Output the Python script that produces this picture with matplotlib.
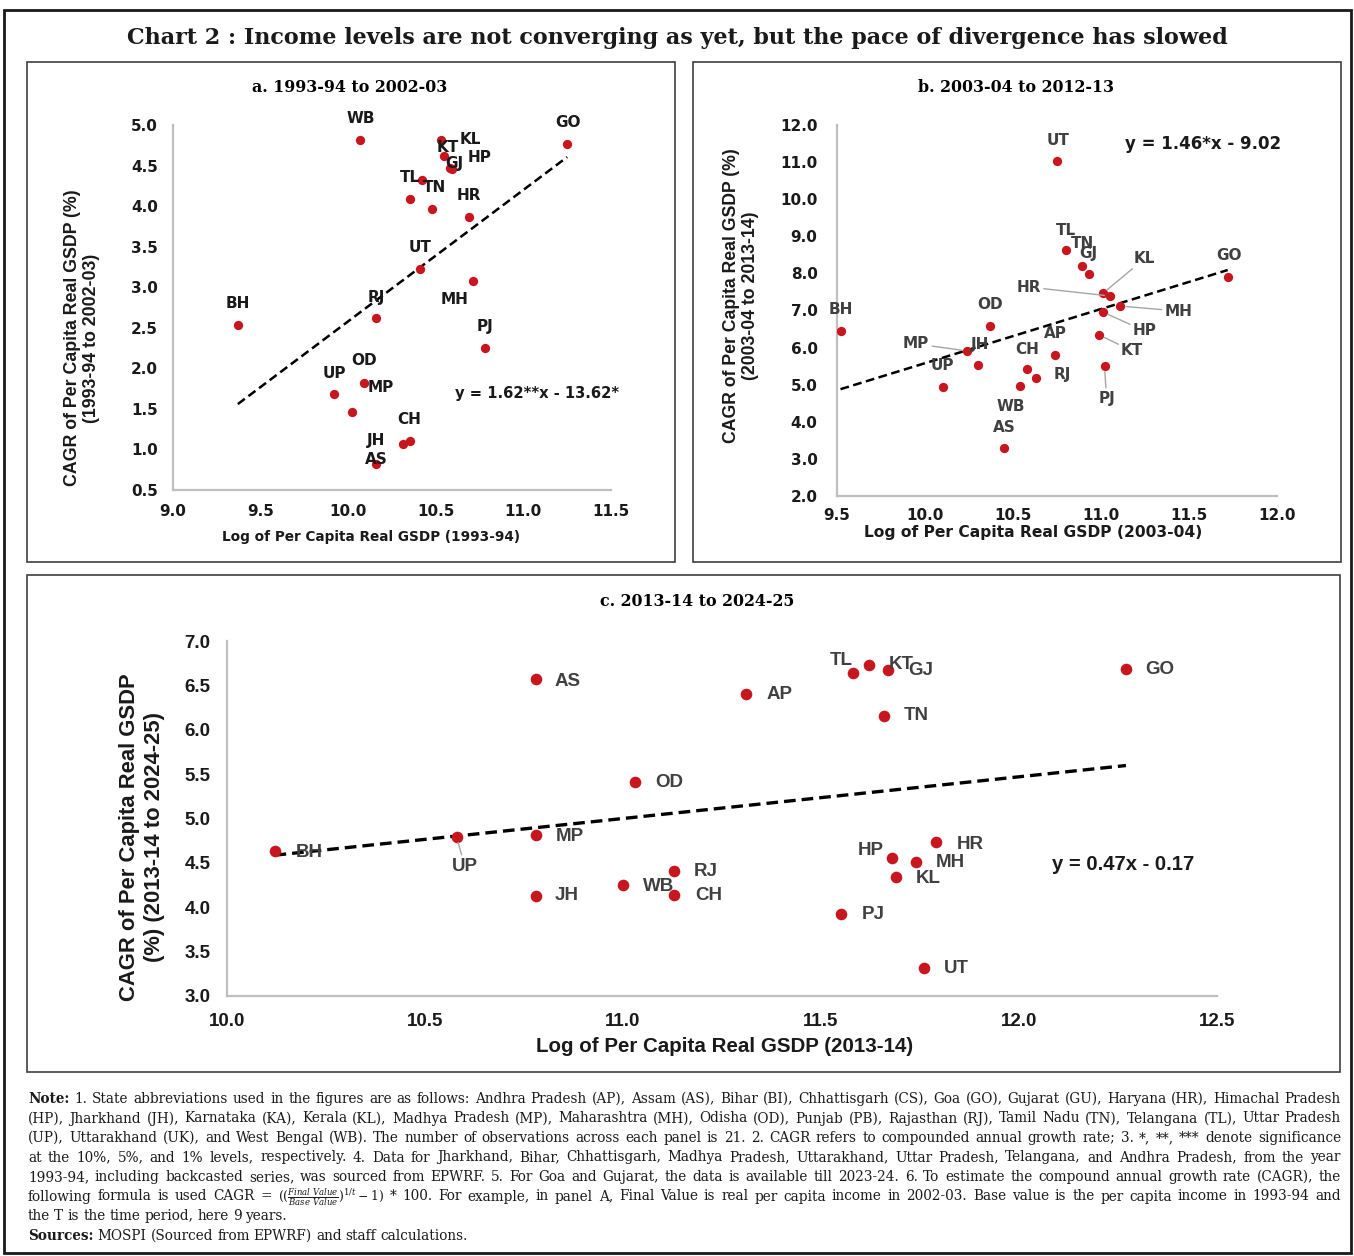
import numpy as np
import matplotlib
matplotlib.use('Agg')
import matplotlib.pyplot as plt
from matplotlib.patches import Rectangle

W, H = 1354, 1256

# ---- panel a: 1993-94 to 2002-03 ----
states_a = ['WB', 'KL', 'KT', 'GJ', 'HP', 'GO', 'TL', 'AP', 'TN', 'HR', 'UT',
            'MH', 'BH', 'RJ', 'PJ', 'OD', 'UP', 'MP', 'CH', 'JH', 'AS']
x_a = [10.07, 10.53, 10.545, 10.58, 10.59, 11.25, 10.42, 10.35, 10.48, 10.69, 10.41,
       10.71, 9.37, 10.16, 10.78, 10.09, 9.92, 10.02, 10.35, 10.31, 10.16]
y_a = [4.82, 4.82, 4.62, 4.47, 4.46, 4.76, 4.32, 4.09, 3.96, 3.87, 3.22,
       3.08, 2.53, 2.62, 2.25, 1.82, 1.68, 1.46, 1.10, 1.07, 0.82]
fit_a = (1.62, -13.62)

# ---- panel b: 2003-04 to 2012-13 ----
states_b = ['UT', 'TL', 'TN', 'GJ', 'KL', 'HR', 'MH', 'HP', 'KT', 'PJ', 'GO',
            'BH', 'OD', 'MP', 'JH', 'UP', 'AP', 'CH', 'RJ', 'WB', 'AS']
x_b = [10.75, 10.80, 10.89, 10.93, 11.01, 11.05, 11.11, 11.01, 10.99, 11.02, 11.72,
       9.52, 10.37, 10.24, 10.30, 10.10, 10.74, 10.58, 10.63, 10.54, 10.45]
y_b = [11.03, 8.62, 8.20, 7.98, 7.46, 7.39, 7.12, 6.96, 6.34, 5.50, 7.91,
       6.45, 6.59, 5.91, 5.54, 4.94, 5.81, 5.41, 5.18, 4.96, 3.30]
fit_b = (1.46, -9.02)

# ---- panel c: 2013-14 to 2024-25 ----
states_c = ['BH', 'UP', 'MP', 'JH', 'AS', 'OD', 'AP', 'WB', 'RJ', 'CH', 'TL',
            'KT', 'GJ', 'TN', 'GO', 'HR', 'HP', 'MH', 'KL', 'PJ', 'UT']
x_c = [10.12, 10.58, 10.78, 10.78, 10.78, 11.03, 11.31, 11.00, 11.13, 11.13, 11.58,
       11.62, 11.67, 11.66, 12.27, 11.79, 11.68, 11.74, 11.69, 11.55, 11.76]
y_c = [4.63, 4.79, 4.81, 4.13, 6.57, 5.41, 6.40, 4.25, 4.41, 4.14, 6.64,
       6.73, 6.67, 6.16, 6.68, 4.73, 4.56, 4.51, 4.34, 3.92, 3.31]
fit_c = (0.47, -0.17)

# label offsets in pixels (dx, dy up), a third item = draw leader line
off_a = {'WB': (0, 21), 'KL': (29, 0), 'KT': (4, 8), 'GJ': (4, 4), 'HP': (28, 11),
         'GO': (1, 22), 'TL': (-12, 3), 'TN': (2, 22), 'HR': (0, 21), 'UT': (0, 22),
         'MH': (-18, -19), 'BH': (0, 22), 'RJ': (0, 21), 'PJ': (0, 22), 'OD': (0, 22),
         'UP': (0, 21), 'MP': (29, 25), 'CH': (0, 22), 'JH': (-26, 3), 'AS': (0, 5)}
off_b = {'UT': (1, 20), 'TL': (0, 20), 'TN': (1, 22), 'GJ': (0, 21), 'KL': (42, 35, 1),
         'HR': (-81, 9, 1), 'MH': (58, -5, 1), 'HP': (42, -19, 1), 'KT': (33, -16, 1),
         'PJ': (2, -32, 1), 'GO': (1, 21), 'BH': (0, 21), 'OD': (0, 21), 'MP': (-51, 7, 1),
         'JH': (2, 20), 'UP': (0, 21), 'AP': (0, 21), 'CH': (0, 20), 'RJ': (26, 4),
         'WB': (-9, -20), 'AS': (0, 20)}
off_c = {'AS': (32, -2), 'AP': (34, 0), 'OD': (34, 0), 'MP': (34, -1), 'BH': (35, -1),
         'UP': (8, -29, 1), 'RJ': (31, -1), 'WB': (36, -1), 'CH': (34, -1), 'JH': (31, 0),
         'TL': (-11, 12), 'KT': (33, 0), 'GJ': (32, 0), 'TN': (32, 0), 'GO': (34, 0),
         'HR': (34, -2), 'HP': (-22, 7), 'MH': (34, -1), 'KL': (32, -1), 'PJ': (32, 0),
         'UT': (32, 0)}

RED = '#c8161e'
SERIF = 'DejaVu Serif'
SANS = 'DejaVu Sans'
SANS_C = 'Liberation Sans'

plt.rcParams['mathtext.fontset'] = 'dejavuserif'
fig = plt.figure(figsize=(W / 100, H / 100), dpi=100)


def ftext(x, y, s, **kw):
    return fig.text(x / W, 1 - y / H, s, **kw)


def box(x0, y0, x1, y1, **kw):
    fig.patches.append(Rectangle((x0 / W, 1 - y1 / H), (x1 - x0) / W, (y1 - y0) / H,
                                 transform=fig.transFigure, fill=False, **kw))


def add_axes(l, t, r, b):
    return fig.add_axes([l / W, 1 - b / H, (r - l) / W, (b - t) / H])


def panel(ax, states, xs, ys, fit, offsets, xlim, ylim, xticks, yticks,
          fam, tfs, lfs, lcol, ms, xpad, ypad, lw):
    ax.scatter(xs, ys, s=ms, color=RED, zorder=3, linewidths=0)
    xx = np.array([min(xs), max(xs)])
    ax.plot(xx, fit[0] * xx + fit[1], color='black', ls=(0, (3.5, 1.8)), lw=lw, zorder=2)
    for st, x, y in zip(states, xs, ys):
        if st not in offsets:
            continue
        o = offsets[st]
        arrow = None
        if len(o) > 2:
            arrow = dict(arrowstyle='-', color='#a6a6a6', lw=1.0, shrinkA=0, shrinkB=4)
        ax.annotate(st, (x, y), xytext=(o[0], o[1]), textcoords='offset pixels',
                    ha='center', va='center', fontsize=lfs, fontweight='bold',
                    family=fam, color=lcol, arrowprops=arrow, zorder=4)
    ax.set_xlim(*xlim)
    ax.set_ylim(*ylim)
    ax.set_xticks(xticks)
    ax.set_yticks(yticks)
    ax.set_xticklabels([f'{v:.1f}' for v in xticks])
    ax.set_yticklabels([f'{v:.1f}' for v in yticks])
    for lab in ax.get_xticklabels() + ax.get_yticklabels():
        lab.set_fontweight('bold')
        lab.set_family(fam)
        lab.set_fontsize(tfs)
        lab.set_color('#1a1a1a')
    ax.tick_params(axis='x', length=0, pad=xpad)
    ax.tick_params(axis='y', length=0, pad=ypad)
    for sp in ['top', 'right']:
        ax.spines[sp].set_visible(False)
    for sp in ['left', 'bottom']:
        ax.spines[sp].set_color('#bfbfbf')
        ax.spines[sp].set_linewidth(1.6)
    ax.patch.set_alpha(0)


# frames
box(4, 10, 1351, 1253, edgecolor='#1a1a1a', lw=2)
box(27, 62, 675, 562, edgecolor='#404040', lw=1.2)
box(693, 62, 1341, 562, edgecolor='#404040', lw=1.2)
box(27, 575, 1340, 1072, edgecolor='#404040', lw=1.2)

ftext(677, 38, 'Chart 2 : Income levels are not converging as yet, but the pace of divergence has slowed',
      ha='center', va='center', fontsize=16, fontweight='bold', family=SERIF, color='#1a1a1a')

# panel a
ax_a = add_axes(173, 125, 611, 490)
panel(ax_a, states_a, x_a, y_a, fit_a, off_a, (9.0, 11.5), (0.5, 5.0),
      np.arange(9.0, 11.51, 0.5), np.arange(0.5, 5.01, 0.5),
      SANS, 11, 11, '#1a1a1a', 45, 10, 11, 1.8)
ftext(350, 88, 'a. 1993-94 to 2002-03', ha='center', va='center', fontsize=11.4,
      fontweight='bold', family=SERIF)
ftext(371, 537, 'Log of Per Capita Real GSDP (1993-94)', ha='center', va='center',
      fontsize=9.8, fontweight='bold', family=SANS, color='#1a1a1a')
ftext(82, 338, 'CAGR of Per Capita Real GSDP (%)\n(1993-94 to 2002-03)', ha='center',
      va='center', rotation=90, fontsize=12.8, fontweight='bold', family=SANS_C,
      linespacing=1.15, color='#1a1a1a')
ftext(537, 393, 'y = 1.62**x - 13.62*', ha='center', va='center', fontsize=10.6,
      fontweight='bold', family=SANS, color='#1a1a1a')

# panel b
ax_b = add_axes(837, 125, 1277, 496)
panel(ax_b, states_b, x_b, y_b, fit_b, off_b, (9.5, 12.0), (2.0, 12.0),
      np.arange(9.5, 12.01, 0.5), np.arange(2.0, 12.01, 1.0),
      SANS, 11, 11, '#404040', 45, 9, 14, 1.8)
ftext(1016, 88, 'b. 2003-04 to 2012-13', ha='center', va='center', fontsize=11.4,
      fontweight='bold', family=SERIF)
ftext(1033, 533, 'Log of Per Capita Real GSDP (2003-04)', ha='center', va='center',
      fontsize=11.2, fontweight='bold', family=SANS, color='#1a1a1a')
ftext(741, 296, 'CAGR of Per Capita Real GSDP (%)\n(2003-04 to 2013-14)', ha='center',
      va='center', rotation=90, fontsize=12.7, fontweight='bold', family=SANS_C,
      linespacing=1.15, color='#1a1a1a')
ftext(1203, 144, 'y = 1.46*x - 9.02', ha='center', va='center', fontsize=12,
      fontweight='bold', family=SANS, color='#1a1a1a')

# panel c
ax_c = add_axes(227, 641, 1217, 996)
panel(ax_c, states_c, x_c, y_c, fit_c, off_c, (10.0, 12.5), (3.0, 7.0),
      np.arange(10.0, 12.51, 0.5), np.arange(3.0, 7.01, 0.5),
      SANS_C, 13.5, 13.5, '#404040', 70, 12, 12, 2.4)
ftext(697, 601, 'c. 2013-14 to 2024-25', ha='center', va='center', fontsize=11.4,
      fontweight='bold', family=SERIF)
ftext(725, 1047, 'Log of Per Capita Real GSDP (2013-14)', ha='center', va='center',
      fontsize=14.8, fontweight='bold', family=SANS_C, color='#1a1a1a')
ftext(142, 837, 'CAGR of Per Capita Real GSDP\n(%) (2013-14 to 2024-25)', ha='center',
      va='center', rotation=90, fontsize=15.8, fontweight='bold', family=SANS_C,
      linespacing=1.3, color='#1a1a1a')
ftext(1123, 865, 'y = 0.47x - 0.17', ha='center', va='center', fontsize=14.6,
      fontweight='bold', family=SANS_C, color='#1a1a1a')

# ---- notes (justified lines) ----
FORMULA = r'$((\frac{Final\ Value}{Base\ Value})^{1/t}-1)$'
note_lines = [
    'Note: 1. State abbreviations used in the figures are as follows: Andhra Pradesh (AP), Assam (AS), Bihar (BI), Chhattisgarh (CS), Goa (GO), Gujarat (GU), Haryana (HR), Himachal Pradesh',
    '(HP), Jharkhand (JH), Karnataka (KA), Kerala (KL), Madhya Pradesh (MP), Maharashtra (MH), Odisha (OD), Punjab (PB), Rajasthan (RJ), Tamil Nadu (TN), Telangana (TL), Uttar Pradesh',
    '(UP), Uttarakhand (UK), and West Bengal (WB). The number of observations across each panel is 21. 2. CAGR refers to compounded annual growth rate; 3. *, **, *** denote significance',
    'at the 10%, 5%, and 1% levels, respectively. 4. Data for Jharkhand, Bihar, Chhattisgarh, Madhya Pradesh, Uttarakhand, Uttar Pradesh, Telangana, and Andhra Pradesh, from the year',
    '1993-94, including backcasted series, was sourced from EPWRF. 5. For Goa and Gujarat, the data is available till 2023-24. 6. To estimate the compound annual growth rate (CAGR), the',
    'following formula is used CAGR = {F} * 100. For example, in panel A, Final Value is real per capita income in 2002-03. Base value is the per capita income in 1993-94 and',
    'the T is the time period, here 9 years.',
    'Sources: MOSPI (Sourced from EPWRF) and staff calculations.',
]
NOTE_FS = 9.8
x_left, x_right = 28, 1341
renderer = fig.canvas.get_renderer()
for i, line in enumerate(note_lines):
    yb = 1103 + 19.5 * i
    arts = []
    for tok in line.split(' '):
        bold = tok in ('Note:', 'Sources:')
        s = FORMULA if tok == '{F}' else tok
        arts.append(ftext(0, yb, s, ha='left', va='baseline',
                          fontsize=NOTE_FS - 1 if tok == '{F}' else NOTE_FS,
                          family=SERIF, fontweight='bold' if bold else 'normal',
                          color='#1a1a1a'))
    widths = [a.get_window_extent(renderer).width for a in arts]
    gap = NOTE_FS * 100 / 72 * 0.3
    if i < 6:
        gap = max(gap * 0.6, (x_right - x_left - sum(widths)) / (len(arts) - 1))
    x = x_left
    for a, w in zip(arts, widths):
        a.set_x(x / W)
        x += w + gap

fig.savefig('out.png', dpi=100)
